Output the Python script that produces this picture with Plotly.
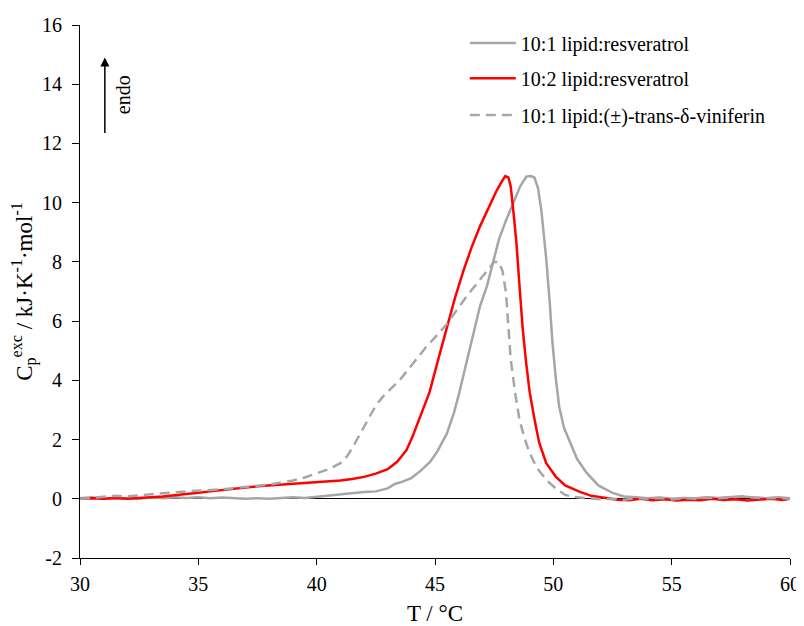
import plotly.graph_objects as go

# 10:1 lipid:resveratrol (grey solid)
t_res1 = [30, 30.5, 31, 31.5, 32, 32.5, 33, 33.5, 34, 34.5, 35, 35.5, 36, 36.5, 37, 37.5, 38, 38.5, 39, 39.5,
          40, 40.5, 41, 41.5, 42, 42.5, 43, 43.3, 43.6, 44, 44.4, 44.8, 45.1, 45.5, 45.8, 46.0, 46.3, 46.6, 46.9,
          47.2, 47.5, 47.7, 48.0, 48.3, 48.6, 48.86, 49.05, 49.2, 49.35, 49.5, 49.6, 49.7, 49.85, 49.96, 50.1,
          50.25, 50.45, 50.7, 51.0, 51.4, 51.9, 52.5, 53, 53.5, 54, 54.5, 55, 55.5, 56, 56.5, 57, 57.5, 58, 58.5,
          59, 59.5, 60]
cp_res1 = [0.02, 0.05, 0.0, 0.03, 0.02, 0.0, 0.04, 0.02, 0.05, 0.03, 0.05, 0.02, 0.04, 0.03, 0.0, 0.02, 0.0, 0.03,
           0.05, 0.03, 0.07, 0.1, 0.15, 0.2, 0.23, 0.25, 0.35, 0.5, 0.57, 0.7, 0.95, 1.25, 1.6, 2.2, 2.9, 3.5, 4.5,
           5.6, 6.5, 7.2, 8.1, 8.75, 9.4, 10.0, 10.55, 10.88, 10.9, 10.85, 10.5, 9.7, 9.0, 8.1, 6.6, 5.3, 4.1, 3.1,
           2.4, 1.9, 1.35, 0.88, 0.45, 0.2, 0.08, 0.05, 0.02, 0.04, 0.0, 0.03, 0.02, 0.05, 0.03, 0.06, 0.08, 0.04,
           0.02, 0.05, 0.02]

# 10:2 lipid:resveratrol (red solid)
t_res2 = [30, 30.5, 31, 31.5, 32, 32.5, 33, 33.5, 34, 34.5, 35, 35.5, 36, 36.5, 37, 37.5, 38, 38.5, 39, 39.5,
          40, 40.5, 41, 41.5, 42, 42.5, 43, 43.4, 43.8, 44.05, 44.4, 44.77, 45.1, 45.5, 45.85, 46.2, 46.55, 46.9,
          47.25, 47.6, 47.85, 47.97, 48.1, 48.2, 48.3, 48.44, 48.57, 48.7, 48.85, 49.0, 49.2, 49.4, 49.7, 50.1,
          50.5, 51.1, 51.6, 52.2, 52.7, 53.2, 53.7, 54.2, 54.7, 55.2, 55.7, 56.2, 56.7, 57.2, 57.7, 58.2, 58.7,
          59.2, 59.7, 60]
cp_res2 = [0.0, 0.02, 0.0, 0.03, 0.0, 0.02, 0.05, 0.08, 0.12, 0.15, 0.2, 0.25, 0.3, 0.33, 0.38, 0.42, 0.45, 0.48,
           0.5, 0.53, 0.55, 0.58, 0.62, 0.67, 0.74, 0.85, 1.0, 1.25, 1.65, 2.1, 2.8, 3.6, 4.6, 5.8, 6.8, 7.7, 8.5,
           9.2, 9.8, 10.4, 10.75, 10.9, 10.85, 10.55, 9.8, 8.65, 7.2, 5.8, 4.6, 3.6, 2.7, 1.9, 1.2, 0.75, 0.45, 0.24,
           0.1, 0.03, -0.03, -0.05, 0.0, -0.05, -0.02, -0.06, -0.03, -0.05, 0.0, -0.04, -0.02, -0.06, -0.03, 0.0,
           -0.04, 0.0]

# 10:1 lipid:(±)-trans-δ-viniferin (grey dashed)
t_vin = [30, 30.5, 31, 31.5, 32, 32.5, 33, 33.5, 34, 34.5, 35, 35.5, 36, 36.5, 37, 37.5, 38, 38.5, 39, 39.5,
         40, 40.5, 41.0, 41.3, 41.6, 41.9, 42.2, 42.5, 42.8, 43.1, 43.5, 43.8, 44.2, 44.6, 45.0, 45.5, 45.9, 46.3,
         46.7, 47.0, 47.3, 47.5, 47.7, 47.85, 48.0, 48.1, 48.2, 48.4, 48.57, 48.8, 49.0, 49.3, 49.7, 50.1, 50.5,
         51.0, 51.4, 52, 52.5, 53, 53.5, 54, 54.5, 55, 55.5, 56, 56.5, 57, 57.5, 58, 58.5, 59, 59.5, 60]
cp_vin = [0.0, 0.03, 0.05, 0.1, 0.08, 0.12, 0.15, 0.2, 0.22, 0.25, 0.27, 0.3, 0.32, 0.36, 0.4, 0.45, 0.48, 0.55,
          0.62, 0.72, 0.85, 1.0, 1.2, 1.45, 1.85, 2.3, 2.75, 3.15, 3.45, 3.7, 4.0, 4.3, 4.7, 5.1, 5.45, 5.9, 6.35,
          6.8, 7.2, 7.5, 7.8, 8.0, 8.0, 7.7, 6.95, 5.9, 4.7, 3.5, 2.67, 2.0, 1.55, 1.05, 0.64, 0.35, 0.13, 0.05,
          0.03, -0.02, 0.0, -0.03, 0.02, 0.0, 0.03, -0.02, 0.02, 0.0, 0.04, 0.02, 0.05, 0.08, 0.04, 0.02, 0.03, 0.0]

x_ticks = [30, 35, 40, 45, 50, 55, 60]
y_ticks = [-2, 0, 2, 4, 6, 8, 10, 12, 14, 16]
y_tick_labels = ["-2", "0", "2", "4", "6", "8", "10", "12", "14", "16"]

names = ["10:1 lipid:resveratrol", "10:2 lipid:resveratrol", "10:1 lipid:(±)-trans-δ-viniferin"]

FONT = "Liberation Serif"
GREY = "#A6A6A6"
RED = "#FF0000"

fig = go.Figure()
fig.add_trace(go.Scatter(x=t_res1, y=cp_res1, mode="lines", name=names[0], legend="legend",
                         line=dict(color=GREY, width=2.5)))
fig.add_trace(go.Scatter(x=t_res2, y=cp_res2, mode="lines", name=names[1], legend="legend2",
                         line=dict(color=RED, width=2.5)))
fig.add_trace(go.Scatter(x=t_vin, y=cp_vin, mode="lines", name=names[2], legend="legend3",
                         line=dict(color=GREY, width=2.5, dash="10px,6px")))

def leg(y):
    return dict(x=0.542, y=y, xanchor="left", yanchor="middle", bgcolor="rgba(0,0,0,0)",
                font=dict(family=FONT, size=20, color="black"), itemwidth=46)

fig.update_layout(
    width=796, height=618,
    margin=dict(l=72, r=14, t=17, b=68),
    plot_bgcolor="white", paper_bgcolor="white",
    font=dict(family=FONT, size=20, color="black"),
    showlegend=True,
    legend=leg(0.966), legend2=leg(0.9), legend3=leg(0.831),
    xaxis=dict(range=[30, 60], tickvals=x_ticks, showline=True, linecolor="black", linewidth=1,
               ticks="outside", ticklen=6, tickcolor="black", showgrid=False, zeroline=False,
               automargin=False, ticklabelstandoff=2,
               title=dict(text="T / °C", font=dict(family=FONT, size=23), standoff=10),
               tickfont=dict(family=FONT, size=20)),
    yaxis=dict(range=[-2, 16], tickvals=y_ticks, ticktext=y_tick_labels, showline=True, linecolor="black",
               linewidth=1, ticks="outside", ticklen=7, tickcolor="black", showgrid=False,
               zeroline=True, zerolinecolor="black", zerolinewidth=1, automargin=False,
               ticklabelstandoff=6,
               title=dict(text="C<sub>p</sub><sup>exc</sup> / kJ·K<sup>-1</sup>·mol<sup>-1</sup>",
                          font=dict(family=FONT, size=23), standoff=6),
               tickfont=dict(family=FONT, size=20)),
)

fig.add_annotation(x=31.05, y=14.9, ax=31.05, ay=12.3, xref="x", yref="y", axref="x", ayref="y",
                   showarrow=True, arrowhead=2, arrowsize=1.2, arrowwidth=1.5, arrowcolor="black", text="")
fig.add_annotation(x=31.8, y=13.65, xref="x", yref="y", text="endo", showarrow=False, textangle=-90,
                   font=dict(family=FONT, size=20))

fig.write_html("out.html")
